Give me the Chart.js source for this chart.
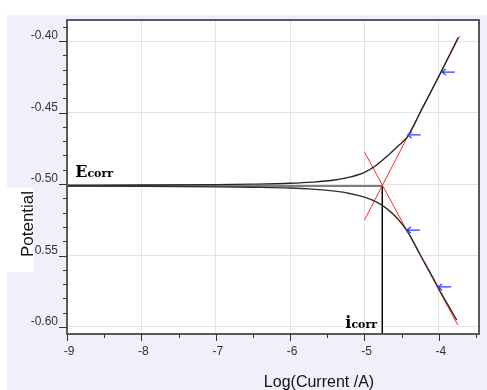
<!DOCTYPE html>
<html>
<head>
<meta charset="utf-8">
<script src="https://cdn.jsdelivr.net/npm/chart.js@4"></script>
<style>
  html, body { margin: 0; padding: 0; background: #fff; }
  canvas { display: block; }
</style>
</head>
<body>
<canvas id="tafelChart" width="487" height="390"></canvas>
<script>
// Tafel plot data
const xTicks = [-9, -8, -7, -6, -5, -4];
const yTicks = [-0.60, -0.55, -0.50, -0.45, -0.40];

const anodicX = [-9, -8, -7, -6.5, -6, -5.7, -5.4, -5.2, -5.0, -4.85, -4.7, -4.55, -4.42, -4.22, -3.99, -3.74];
const anodicY = [-0.5008, -0.5007, -0.5004, -0.5001, -0.4995, -0.4987, -0.4972, -0.4952, -0.4918, -0.4872, -0.4808, -0.4735, -0.4669, -0.4468, -0.4237, -0.3975];

const cathodicX = [-9, -8, -7, -6.5, -6, -5.7, -5.4, -5.2, -5.0, -4.85, -4.7, -4.55, -4.4, -4.25, -4.1, -3.95, -3.85, -3.76];
const cathodicY = [-0.5014, -0.5016, -0.502, -0.5023, -0.5028, -0.5036, -0.505, -0.5066, -0.5092, -0.5124, -0.5172, -0.5245, -0.535, -0.5495, -0.5635, -0.578, -0.587, -0.5951];

const anodicTafelX = [-5.0, -3.72];
const anodicTafelY = [-0.5252, -0.3965];
const cathodicTafelX = [-5.0, -3.745];
const cathodicTafelY = [-0.4776, -0.5986];

const eCorr = -0.5014;
const iCorr = -4.76;

const arrowX = [-3.96, -4.42, -4.43, -4.01];
const arrowY = [-0.4217, -0.4657, -0.5322, -0.572];

const xMin = -9, xMax = -3.46;
const yMin = -0.6049, yMax = -0.3853;

function pts(xs, ys) {
  return xs.map((x, i) => ({ x: x, y: ys[i] }));
}

const decor = {
  id: 'decor',
  beforeDraw(chart) {
    const ctx = chart.ctx;
    const a = chart.chartArea;
    ctx.save();
    ctx.fillStyle = '#ffffff';
    ctx.fillRect(0, 0, chart.width, chart.height);
    ctx.fillStyle = '#f0f0fc';
    ctx.fillRect(7, 15, chart.width - 7, chart.height - 15);
    ctx.fillStyle = '#ffffff';
    ctx.fillRect(a.left, a.top, a.right - a.left, a.bottom - a.top);
    ctx.restore();
  },
  afterDatasetsDraw(chart) {
    const ctx = chart.ctx;
    const xs = chart.scales.x, ys = chart.scales.y;
    ctx.save();
    // blue arrows
    ctx.strokeStyle = '#2a3cff';
    ctx.lineWidth = 1.2;
    arrowX.forEach((v, i) => {
      const px = xs.getPixelForValue(v), py = ys.getPixelForValue(arrowY[i]);
      ctx.beginPath();
      ctx.moveTo(px, py);
      ctx.lineTo(px + 13, py);
      ctx.moveTo(px + 4, py - 3);
      ctx.lineTo(px, py);
      ctx.lineTo(px + 4, py + 3);
      ctx.stroke();
    });
    // Ecorr / icorr labels
    ctx.fillStyle = '#000';
    ctx.textBaseline = 'alphabetic';
    ctx.textAlign = 'left';
    const ex = xs.getPixelForValue(-8.89), ey = ys.getPixelForValue(eCorr) - 9;
    ctx.font = 'bold 16px "DejaVu Serif"';
    ctx.fillText('E', ex, ey);
    const ew = ctx.measureText('E').width;
    ctx.font = 'bold 11px "DejaVu Serif"';
    ctx.fillText('corr', ex + ew, ey);
    const ix = xs.getPixelForValue(iCorr) - 37, iy = chart.chartArea.bottom - 6;
    ctx.font = 'bold 16px "DejaVu Serif"';
    ctx.fillText('i', ix, iy);
    const iw = ctx.measureText('i').width;
    ctx.font = 'bold 11px "DejaVu Serif"';
    ctx.fillText('corr', ix + iw, iy);
    ctx.restore();
  },
  afterDraw(chart) {
    const ctx = chart.ctx;
    const a = chart.chartArea;
    const xs = chart.scales.x, ys = chart.scales.y;
    ctx.save();
    // frame
    ctx.strokeStyle = '#5a5a5a';
    ctx.lineWidth = 2;
    ctx.strokeRect(a.left, a.top, a.right - a.left, a.bottom - a.top);
    // tick marks, major and minor
    ctx.strokeStyle = '#333';
    ctx.lineWidth = 1;
    ctx.beginPath();
    for (let v = -9; v <= xMax + 1e-9; v += 0.5) {
      const px = Math.round(xs.getPixelForValue(v)) + 0.5;
      const len = Number.isInteger(v) ? 7 : 4;
      ctx.moveTo(px, a.bottom);
      ctx.lineTo(px, a.bottom + len);
    }
    for (let k = -60; k <= -39; k++) {
      const v = k / 100;
      if (v < yMin || v > yMax) continue;
      const py = Math.round(ys.getPixelForValue(v)) + 0.5;
      const len = k % 5 === 0 ? 8 : 4;
      ctx.moveTo(a.left, py);
      ctx.lineTo(a.left - len, py);
    }
    ctx.stroke();
    // white box behind y title
    ctx.fillStyle = '#ffffff';
    ctx.fillRect(7, 188, 27, 84);
    // axis titles
    ctx.fillStyle = '#111';
    ctx.font = '17px "Liberation Sans", Arial, sans-serif';
    ctx.textAlign = 'center';
    ctx.textBaseline = 'alphabetic';
    ctx.save();
    ctx.translate(33, 224);
    ctx.rotate(-Math.PI / 2);
    ctx.fillText('Potential', 0, 0);
    ctx.restore();
    ctx.font = '16px "Liberation Sans", Arial, sans-serif';
    ctx.fillText('Log(Current /A)', 319, 387);
    ctx.restore();
  }
};

const lineBase = { pointRadius: 0, fill: false, showLine: true };

new Chart(document.getElementById('tafelChart'), {
  type: 'scatter',
  data: {
    datasets: [
      Object.assign({ data: pts(anodicX, anodicY), borderColor: '#262626', borderWidth: 1.4, cubicInterpolationMode: 'monotone' }, lineBase),
      Object.assign({ data: pts(cathodicX, cathodicY), borderColor: '#303030', borderWidth: 1.4, cubicInterpolationMode: 'monotone' }, lineBase),
      Object.assign({ data: pts(anodicTafelX, anodicTafelY), borderColor: '#ff2a2a', borderWidth: 1 }, lineBase),
      Object.assign({ data: pts(cathodicTafelX, cathodicTafelY), borderColor: '#ff2a2a', borderWidth: 1 }, lineBase),
      Object.assign({ data: [{ x: xMin, y: eCorr }, { x: iCorr, y: eCorr }], borderColor: '#000', borderWidth: 1 }, lineBase),
      Object.assign({ data: [{ x: iCorr, y: eCorr }, { x: iCorr, y: yMin }], borderColor: '#000', borderWidth: 1 }, lineBase),
    ],
  },
  options: {
    responsive: false,
    animation: false,
    devicePixelRatio: 1,
    layout: { padding: { top: 20, right: 8, left: 0, bottom: 0 } },
    plugins: { legend: { display: false }, tooltip: { enabled: false } },
    scales: {
      x: {
        type: 'linear',
        min: xMin,
        max: xMax,
        afterBuildTicks: (s) => { s.ticks = xTicks.map((v) => ({ value: v })); },
        afterFit: (s) => { s.height = 56; },
        grid: { color: '#e4e4e4', drawTicks: false },
        border: { display: false },
        ticks: {
          padding: 10,
          labelOffset: 2,
          color: '#333',
          font: { family: '"Liberation Sans", Arial, sans-serif', size: 12 },
          callback: (v) => String(v),
        },
      },
      y: {
        type: 'linear',
        min: yMin,
        max: yMax,
        afterBuildTicks: (s) => { s.ticks = yTicks.map((v) => ({ value: v })); },
        afterFit: (s) => { s.width = 67; },
        grid: { color: '#e4e4e4', drawTicks: false },
        border: { display: false },
        ticks: {
          padding: 9,
          labelOffset: -5,
          color: '#333',
          font: { family: '"Liberation Sans", Arial, sans-serif', size: 12 },
          callback: (v) => v.toFixed(2),
        },
      },
    },
  },
  plugins: [decor],
});
</script>
</body>
</html>
